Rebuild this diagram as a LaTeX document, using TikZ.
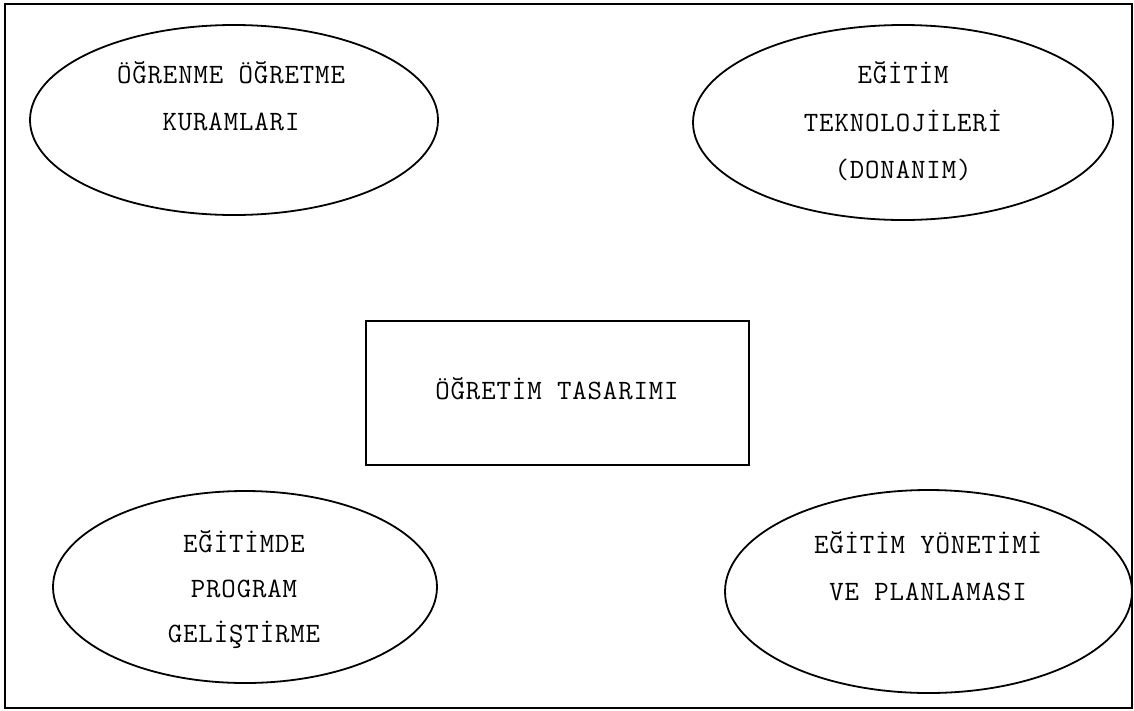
\documentclass[tikz,border=0pt]{standalone}
\usepackage{fontspec}
\newfontfamily\cour[LetterSpace=3.2]{Latin Modern Mono}
\usetikzlibrary{shapes.geometric}
\tikzset{
  shapeline/.style={draw=black, line width=1.8pt},
  oval/.style={shapeline, ellipse, inner sep=0pt},
  lbl/.style={anchor=base, inner sep=0pt, font=\cour\fontsize{28}{28}\selectfont}
}
\begin{document}
\begin{tikzpicture}[x=1pt, y=-1pt]
\useasboundingbox (0,0) rectangle (1134,710);
\draw[shapeline] (5,4) rectangle (1132,708);
% ellipses
\node[oval, minimum width=408pt, minimum height=190pt] (tl) at (234,120) {};
\node[oval, minimum width=420pt, minimum height=195pt] (tr) at (903,122.5) {};
\node[oval, minimum width=384pt, minimum height=192pt] (bl) at (245,587) {};
\node[oval, minimum width=407pt, minimum height=203pt] (br) at (928.5,591.5) {};
% box
\node[shapeline, rectangle, minimum width=383pt, minimum height=144pt, inner sep=0pt] (box) at (557.5,393) {};
% labels
\node[lbl] (tl1) at (231,83) {ÖĞRENME ÖĞRETME};
\node[lbl] (tl2) at (231,130) {KURAMLARI};
\node[lbl] (tr1) at (903,83) {EĞİTİM};
\node[lbl] (tr2) at (903,131) {TEKNOLOJİLERİ};
\node[lbl] (tr3) at (903,178) {(DONANIM)};
\node[lbl] (bl1) at (244,552) {EĞİTİMDE};
\node[lbl] (bl2) at (244,597) {PROGRAM};
\node[lbl] (bl3) at (244,642) {GELİŞTİRME};
\node[lbl] (br1) at (928,553) {EĞİTİM YÖNETİMİ};
\node[lbl] (br2) at (928,600) {VE PLANLAMASI};
\node[lbl] (bx) at (557,399) {ÖĞRETİM TASARIMI};
\end{tikzpicture}
\end{document}
